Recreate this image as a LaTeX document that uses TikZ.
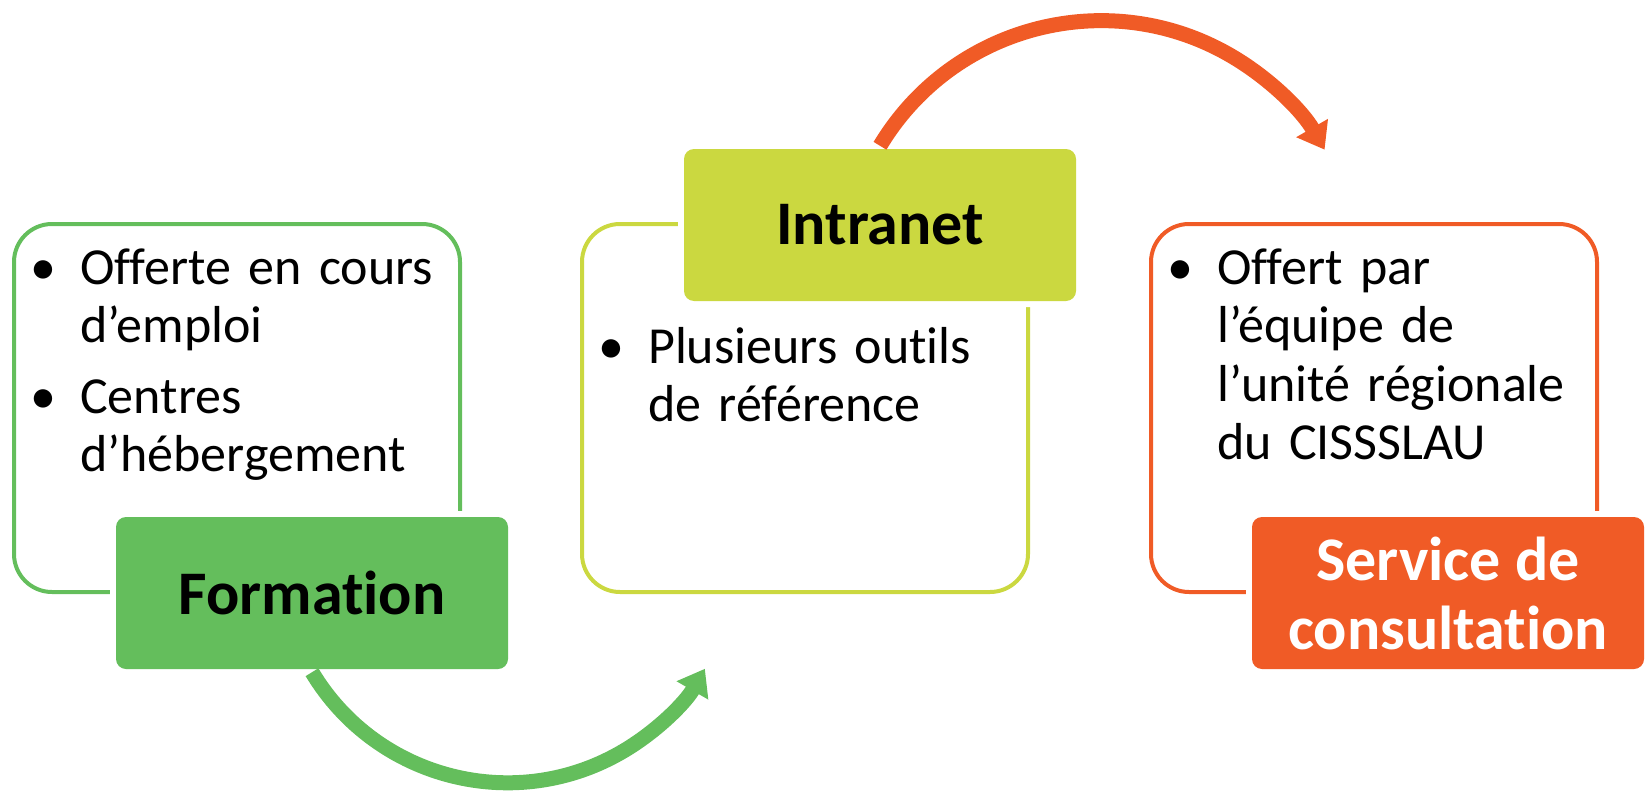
\documentclass[tikz,border=0pt]{standalone}
\usepackage{fontspec}
\setmainfont{Carlito}[Ligatures=NoCommon]
\usetikzlibrary{arrows.meta,positioning}

\definecolor{formgreen}{RGB}{100,190,92}
\definecolor{intralime}{RGB}{203,216,64}
\definecolor{consorange}{RGB}{240,91,38}

\newcommand{\bul}{\noindent\llap{\makebox[0pt]{\textbullet}\hspace{37pt}}}

\begin{document}
\begin{tikzpicture}
  [x=1pt,y=-1pt,>={Triangle[length=25pt,width=35pt]},
  outline box/.style={draw=#1,line width=4pt,rounded corners=38pt,
  minimum width=446pt,minimum height=368pt,inner sep=0pt},
  title box/.style={fill=#1,rounded corners=10pt,minimum width=392pt,
  minimum height=152pt,inner sep=0pt,align=center,
  font=\fontsize{62}{69}\selectfont\bfseries,
  preaction={draw=white,line width=12pt}},
  bullet list/.style={anchor=base west,inner sep=0pt,text width=420pt,
  align=left,font=\fontsize{52}{58.5}\selectfont\setlength{\parskip}{12pt}},
  loop arrow/.style={->,line width=15pt,draw=#1}]

  \useasboundingbox (0,0) rectangle (1647,792);

  \node[outline box=formgreen] (formout) at (237,408) {};
  \node[outline box=intralime] (intraout) at (805,408) {};
  \node[outline box=consorange] (consout) at (1374,408) {};

  \node[title box=formgreen] (form) at (312,593) {Formation};
  \node[title box=intralime] (intra) at (880,225) {Intranet};
  \node[title box=consorange,text=white] (cons) at (1448,593)
    {Service de\\consultation};

  \node[bullet list] (formtext) at (80,284)
    {\bul Offerte en cours\\d’emploi\par
     \bul Centres\\d’hébergement};
  \node[bullet list] (intratext) at (648,363)
    {\bul Plusieurs outils\\de référence};
  \node[bullet list] (constext) at (1217,284)
    {\bul Offert par\\l’équipe de\\l’unité régionale\\du CISSSLAU};

  %\draw (form) -- (intra);
  \draw[loop arrow=formgreen] ([yshift=-3pt]form.south)
    arc[start angle=149,end angle=30,radius=228];
  \draw[loop arrow=consorange] ([yshift=3pt]intra.north)
    arc[start angle=211,end angle=330,radius=258];
\end{tikzpicture}
\end{document}
